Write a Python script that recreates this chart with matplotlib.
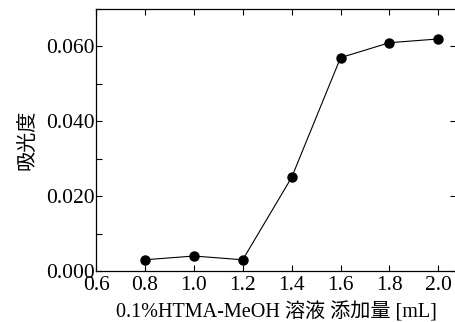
import matplotlib
matplotlib.use("Agg")
import matplotlib.pyplot as plt
from matplotlib.ticker import MultipleLocator, FixedLocator

# --- Data ---
volume_ml = [0.8, 1.0, 1.2, 1.4, 1.6, 1.8, 2.0]
absorbance = [0.003, 0.004, 0.003, 0.025, 0.057, 0.061, 0.062]
x_ticks = [0.6, 0.8, 1.0, 1.2, 1.4, 1.6, 1.8, 2.0]
y_ticks = [0.0, 0.02, 0.04, 0.06]

plt.rcParams["font.family"] = ["Liberation Serif", "Noto Sans CJK JP"]

fig = plt.figure(figsize=(4.56, 3.22), dpi=100)
ax = fig.add_axes([96 / 456, 1 - 271 / 322, 360 / 456, 262 / 322])

ax.plot(volume_ml, absorbance, color="black", linewidth=0.8,
        marker="o", markersize=6.5, markerfacecolor="black", markeredgecolor="black")

ax.set_xlim(0.6, 2.072)
ax.set_ylim(0.0, 0.07)
ax.xaxis.set_major_locator(FixedLocator(x_ticks))
ax.yaxis.set_major_locator(FixedLocator(y_ticks))
ax.yaxis.set_minor_locator(MultipleLocator(0.01))
ax.set_xticklabels([f"{v:.1f}" for v in x_ticks])
ax.set_yticklabels([f"{v:.3f}" for v in y_ticks])

ax.tick_params(which="major", direction="in", length=4, width=0.8,
               top=True, right=True, labelsize=15.5, pad=1)
ax.tick_params(which="minor", direction="in", length=4, width=0.8, right=False)
ax.tick_params(axis="x", which="minor", bottom=False, top=False)
ax.tick_params(axis="x", pad=3.5)
for s in ax.spines.values():
    s.set_linewidth(0.9)

ax.set_xlabel("0.1%HTMA-MeOH 溶液 添加量 [mL]", fontsize=14.5, labelpad=5)
ax.set_ylabel("吸光度", fontsize=14.5, labelpad=6)

fig.savefig("out.png", dpi=100)
